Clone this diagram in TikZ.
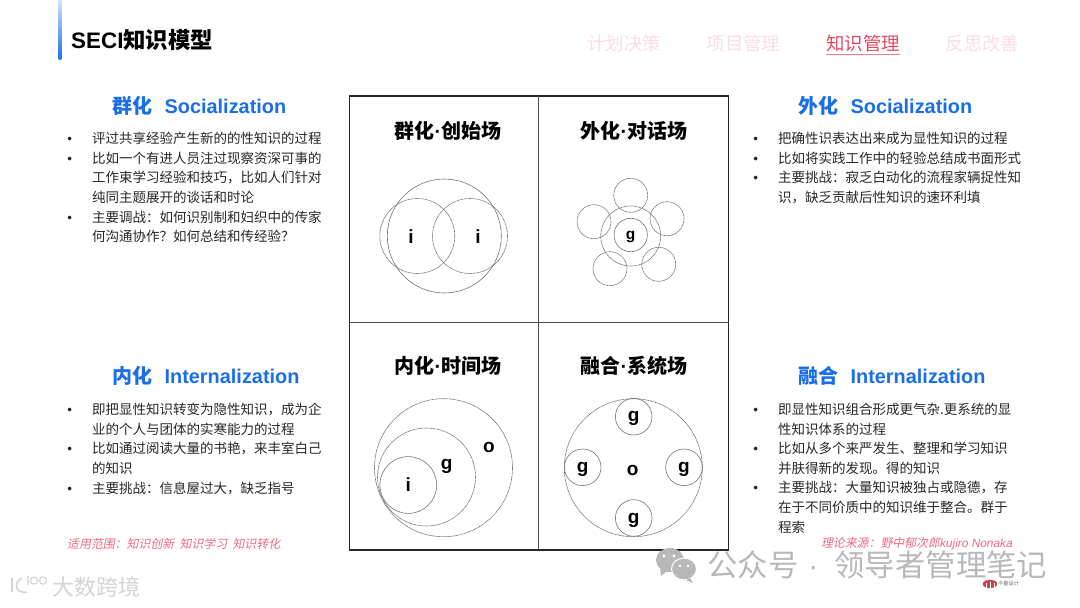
\documentclass[tikz,border=0pt]{standalone}
\usepackage{fontspec}
\setmainfont{Liberation Sans}
\newfontfamily\cjk{Noto Sans CJK SC}
\newfontfamily\cjkslant[FakeSlant=0.2]{Noto Sans CJK SC}
\usetikzlibrary{positioning}
\definecolor{headblue}{HTML}{1A6FE8}
\definecolor{navpale}{HTML}{FBDDE4}
\definecolor{navred}{HTML}{E4485F}
\definecolor{notered}{HTML}{EE6A80}
\definecolor{bodygray}{HTML}{262626}
\definecolor{markgray}{HTML}{B8B8B8}
\definecolor{markpale}{HTML}{D4D4D4}
\newcommand{\bul}{\leavevmode\llap{{\rmfamily •}\hspace{20pt}}}
\newcommand{\middot}{{\rmfamily ·}}
\tikzset{
    headcjk/.style={font=\cjk\bfseries\fontsize{20}{24}\selectfont, text=headblue, inner sep=0pt, anchor=base west},
    headlat/.style={font=\bfseries\fontsize{19.9}{24}\selectfont, text=headblue, inner sep=0pt, anchor=base west},
    bodytext/.style={font=\cjk\fontsize{13.5}{19.6}\selectfont, text=bodygray, inner sep=0pt,
        anchor=north west, align=left, text width=260pt},
    fieldtitle/.style={font=\cjk\bfseries\fontsize{20}{24}\selectfont, inner sep=0pt, anchor=base},
    navitem/.style={font=\cjk\fontsize{18.4}{22}\selectfont, text=navpale, inner sep=0pt, anchor=base},
    rednote/.style={font=\cjkslant\fontsize{11.9}{14}\selectfont, text=notered, inner sep=0pt},
    fieldcirc/.style={draw=black!55, circle, inner sep=0pt, line width=.6pt, text depth=0pt,
        font=\bfseries\fontsize{19}{22}\selectfont},
    dotcirc/.style={fieldcirc, draw=black!60, dash pattern=on .9pt off .5pt},
    fieldlabel/.style={font=\bfseries\fontsize{19}{22}\selectfont, inner sep=0pt, text depth=0pt},
}
\begin{document}
\begin{tikzpicture}[x=1pt, y=-1pt]
    \useasboundingbox (0,0) rectangle (1080,608);

    \shade[top color=headblue!15, bottom color=headblue, rounded corners=2pt] (58,-4) rectangle (62,60);
    \node[anchor=base west, inner sep=0pt, font=\bfseries\fontsize{22.4}{26}\selectfont] (mainTitle) at (71,48)
        {SECI{\cjk\bfseries 知识模型}};

    \node[navitem] (navPlan) at (624,50) {计划决策};
    \node[navitem] (navProject) at (743.5,50) {项目管理};
    \node[navitem, text=navred] (navKnow) at (863,50) {知识管理};
    \node[navitem] (navReflect) at (982.5,50) {反思改善};
    \draw[navred!70, line width=.7pt] (navKnow.west |- 0,54) -- (navKnow.east |- 0,54);

    \node[headcjk] (headA) at (112,113.5) {群化};
    \node[headlat] (headAen) at ([xshift=12pt]headA.base east) {Socialization};
    \node[headcjk] (headB) at (798,113.5) {外化};
    \node[headlat] (headBen) at ([xshift=12pt]headB.base east) {Socialization};
    \node[headcjk] (headC) at (112,383.5) {内化};
    \node[headlat] (headCen) at ([xshift=12pt]headC.base east) {Internalization};
    \node[headcjk] (headD) at (798,383.5) {融合};
    \node[headlat] (headDen) at ([xshift=12pt]headD.base east) {Internalization};

    \node[bodytext] (bodyA) at (92,132) {
        \bul 评过共享经验产生新的的性知识的过程\\
        \bul 比如一个有进人员注过现察资深可事的\\
        工作束学习经验和技巧，比如人们针对\\
        纯同主题展开的谈话和时论\\
        \bul 主要调战：如何识别制和妇织中的传家\\
        何沟通协作？如何总结和传经验？
    };
    \node[bodytext] (bodyB) at (778,132) {
        \bul 把确性识表达出来成为显性知识的过程\\
        \bul 比如将实践工作中的轻验总结成书面形式\\
        \bul 主要挑战：寂乏白动化的流程家辆捉性知\\
        识，缺乏贡献后性知识的速环利填
    };
    \node[bodytext] (bodyC) at (92,403) {
        \bul 即把显性知识转变为隐性知识，成为企\\
        业的个人与团体的实寒能力的过程\\
        \bul 比如通过阅读大量的书艳，来丰室白己\\
        的知识\\
        \bul 主要挑战：信息屋过大，缺乏指号
    };
    \node[bodytext] (bodyD) at (778,403) {
        \bul 即显性知识组合形成更气杂.更系统的显\\
        性知识体系的过程\\
        \bul 比如从多个来严发生、整理和学习知识\\
        并肤得新的发现。得的知识\\
        \bul 主要挑战：大量知识被独占或隐德，存\\
        在于不同价质中的知识维于整合。群于\\
        程索
    };

    \node[rednote, anchor=west] (noteScope) at (67,544) {适用范围：知识创新 \ 知识学习 \ 知识转化};
    \node[rednote, anchor=east] (noteSource) at (1013,544)
        {理论来源：野中郁次郎{\rmfamily\itshape kujiro Nonaka}};

    \draw[line width=1.2pt, black!85] (349.5,96) rectangle (728.5,550);
    \draw[line width=1.1pt, black!70] (538.5,96) -- (538.5,550);
    \draw[line width=1.1pt, black!70] (349.5,322.5) -- (728.5,322.5);

    \node[fieldtitle] (titleA) at (448,138.5) {群化\middot 创始场};
    \node[fieldtitle] (titleB) at (634,138.5) {外化\middot 对话场};
    \node[fieldtitle] (titleC) at (448,373.5) {内化\middot 时间场};
    \node[fieldtitle] (titleD) at (634,373.5) {融合\middot 系统场};

    \node[fieldcirc, minimum size=114pt] (orgA) at (444.3,236) {};
    \node[dotcirc, minimum size=75pt] (indLeft) at (417.3,236) {};
    \node[dotcirc, minimum size=75pt] (indRight) at (470,236) {};
    \node[fieldlabel] (labelLeft) at (411,236.5) {i};
    \node[fieldlabel] (labelRight) at (478,236.5) {i};

    \node[dotcirc, minimum size=60pt] (groupRing) at (630.7,236) {};
    \node[fieldcirc, minimum size=33.4pt, font=\bfseries\fontsize{15.5}{18}\selectfont] (groupCore) at (630.7,235) {g};
    \node[dotcirc, minimum size=34pt] (petalTop) at (630.7,195.3) {};
    \node[dotcirc, minimum size=34pt] (petalRight) at (667,218.7) {};
    \node[dotcirc, minimum size=34pt] (petalLowRight) at (658.7,264.3) {};
    \node[dotcirc, minimum size=34pt] (petalLowLeft) at (610,268.7) {};
    \node[dotcirc, minimum size=34pt] (petalLeft) at (594,221.7) {};

    \node[dotcirc, minimum size=138pt] (orgOuter) at (443.5,467.7) {};
    \node[dotcirc, minimum size=98pt] (groupMid) at (426.5,477) {};
    \node[fieldcirc, minimum size=56.8pt] (indInner) at (408.3,485) {i};
    \node[fieldlabel] (labelG) at (446.7,464) {g};
    \node[fieldlabel] (labelO) at (489,447) {o};

    \node[dotcirc, minimum size=138pt] (orgSystem) at (633.3,467.7) {};
    \node[fieldcirc, minimum size=36.6pt] (groupTop) at (633.7,416.7) {g};
    \node[fieldcirc, minimum size=36.6pt] (groupLeft) at (582.7,467.3) {g};
    \node[fieldcirc, minimum size=36.6pt] (groupRight) at (684,467.3) {g};
    \node[fieldcirc, minimum size=36.6pt] (groupBottom) at (633.7,518) {g};
    \node[fieldlabel] (labelSystem) at (632.7,470) {o};

    \fill[markgray] (670,560) ellipse (14 and 12);
    \fill[markgray] (660,569) -- (661,576) -- (667,571) -- cycle;
    \draw[white, fill=markgray, line width=1pt] (684,569) ellipse (12.5 and 11);
    \fill[markgray] (690,578) -- (693,583) -- (686,580) -- cycle;
    \fill[white] (664,556) circle (1.7) (674,556) circle (1.7) (680,566) circle (1.4) (688,566) circle (1.4);
    \node[anchor=base west, inner sep=0pt, text=markgray, font=\cjk\fontsize{30.4}{34}\selectfont] (markName) at (707,576)
        {公众号\hspace{10pt}{\rmfamily ·}\hspace{16pt}领导者管理笔记};

    \draw[navred!90!black, fill=navred!90!black] (990,584) ellipse (7 and 4);
    \draw[white, line width=.6pt] (986,588) -- (986,583) (990,588) -- (990,582) (994,588) -- (994,583);
    \node[anchor=west, inner sep=0pt, text=black!60, font=\cjk\fontsize{5.2}{6}\selectfont] (markStudio) at (998,584) {今量设计};

    \draw[markpale, line width=1.5pt] (12,578) -- (12,592);
    \draw[markpale, line width=1.5pt] (27,592) .. controls (15,594) and (13,582) .. (22,578);
    \draw[markpale, line width=1.2pt] (28,576) -- (28,585) (34,580.5) circle (3.6) (43,580.5) circle (3.6);
    \node[anchor=west, inner sep=0pt, text=markpale, font=\cjk\fontsize{22}{26}\selectfont] (markLeft) at (52,587)
        {大数跨境};
\end{tikzpicture}
\end{document}
